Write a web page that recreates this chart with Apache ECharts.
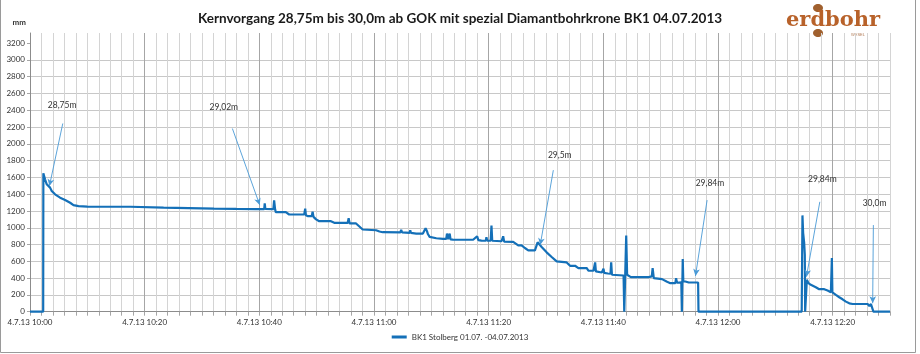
<!DOCTYPE html>
<html>
<head>
<meta charset="utf-8">
<script src="https://cdn.jsdelivr.net/npm/echarts@6/dist/echarts.min.js"></script>
<style>html,body{margin:0;padding:0;background:#fff}#c{width:920px;height:354px}</style>
</head>
<body>
<div id="c"></div>
<script>
// ---- DATA (minutes after 4.7.13 10:00, depth counter in mm) ----
const titleText = 'Kernvorgang 28,75m bis 30,0m ab GOK mit spezial Diamantbohrkrone BK1 04.07.2013';
const seriesName = 'BK1 Stolberg 01.07. -04.07.2013';
const yUnit = 'mm';
const xTickLabels = ['4.7.13 10:00','4.7.13 10:20','4.7.13 10:40','4.7.13 11:00','4.7.13 11:20','4.7.13 11:40','4.7.13 12:00','4.7.13 12:20'];
const yTicks = [0,200,400,600,800,1000,1200,1400,1600,1800,2000,2200,2400,2600,2800,3000,3200];

const xMinutes = [
 0, 2.30, 2.33, 2.62, 2.92, 3.5, 3.79, 4.37, 5.25, 6.12, 7.0, 7.58, 8.46, 10.0, 17.5, 23.3, 32.1, 36.0, 39.37,
 40.2, 40.85, 40.94, 41.05, 42.45, 42.58, 42.75, 42.87, 44.62, 44.7, 44.8, 45.2, 47.83, 48.0, 48.12, 48.5, 49.15, 49.29, 49.45,
 49.9, 50.16, 50.45, 52.49, 52.79, 53.07, 55.41, 55.58, 55.75, 56.87, 58.03, 60.37, 60.95, 61.53, 64.6, 64.74, 64.9,
 66.2, 66.32, 66.45, 67.37, 68.53, 68.8, 69.0, 69.24, 69.4, 69.7, 70.87, 72.04, 72.6, 72.73, 72.9, 73.05, 73.2, 73.35,
 73.78, 77.29, 77.99, 78.2, 78.74,
 79.5, 79.61, 79.75, 80.35, 80.49, 80.62, 80.78, 82.24, 82.53, 82.7, 84.28, 84.57, 85.15, 85.74, 86.32, 86.91, 88.07,
 88.3, 88.54, 89.24, 90.11, 90.99, 91.86, 92.16, 93.61, 94.2, 95.07, 95.65, 97.11, 97.4, 98.28, 98.45, 98.57, 98.7,
 98.86, 99.74, 99.9, 100.03, 100.15, 100.32, 100.79, 101.25, 101.37, 101.5, 101.78, 103.53, 103.65, 103.85, 103.99,
 104.15, 104.41, 104.8, 107.9, 108.45, 108.6, 108.8, 109.07, 110.24, 111.11, 111.69, 112.56, 112.69, 112.85, 113.15,
 113.6, 113.7, 113.8, 113.85, 113.95, 114.31, 114.9, 116.53, 116.6,
 134.6, 134.73, 134.85, 135.03, 135.14, 135.2, 135.4, 135.5, 135.78, 136.19, 137.06, 137.65, 138.53, 139.11, 139.69,
 139.8, 139.86, 139.95, 140.1, 140.56, 141.15, 141.73, 142.31, 142.9, 143.18, 143.48, 144.65, 144.93, 145.23, 146.1,
 146.4, 146.68, 146.98, 147.1, 150
];
const depthMM = [
 0, 0, 1650, 1577, 1518, 1478, 1438, 1398, 1358, 1330, 1298, 1270, 1258, 1252, 1250, 1239, 1227, 1224, 1222,
 1222, 1222, 1290, 1225, 1222, 1326, 1220, 1186, 1186, 1200, 1180, 1158, 1158, 1227, 1150, 1138, 1138, 1190, 1130,
 1100, 1120, 1078, 1078, 1098, 1059, 1059, 1114, 1051, 1051, 979, 970, 955, 947, 945, 975, 945,
 940, 970, 938, 931, 931, 935, 994, 960, 925, 891, 875, 867, 867, 931, 865, 865, 931, 860,
 859, 857, 899, 852, 847,
 845, 887, 845, 845, 1027, 845, 839, 839, 899, 835, 831, 819, 791, 791, 759, 731, 731,
 735, 827, 771, 707, 652, 599, 587, 587, 547, 547, 520, 520, 488, 488, 490, 587, 480,
 467, 467, 470, 512, 462, 460, 455, 452, 587, 440, 431, 431, 0, 0, 907,
 440, 440, 412, 412, 420, 520, 400, 388, 388, 356, 340, 340, 400, 345, 350,
 350, 0, 0, 627, 360, 360, 348, 348, 0,
 0, 1147, 939, 819, 679, 0, 0, 380, 340, 320, 292, 268, 268, 252, 232,
 235, 640, 230, 228, 200, 172, 148, 120, 100, 80, 92, 92, 80, 92, 92,
 68, 92, 92, 0, 0
];

// annotations: label, label position, arrow start, arrow tip (minutes, mm)
const annLabels = ['28,75m', '29,02m', '29,5m', '29,84m', '29,84m', '30,0m'];
const annLabelPos = [[5.6, 2456], [33.8, 2435], [92.4, 1865], [118.6, 1529], [138.2, 1577], [147.3, 1294]];
const annFrom = [[5.72, 2242], [35.3, 2182], [91.28, 1686], [118.1, 1329], [137.76, 1309], [147.1, 1032]];
const annTo = [[3.38, 1496], [40.07, 1270], [88.99, 794], [116.07, 425], [135.43, 417], [146.98, 100]];

// ---- CHART ----
const FONT = 'Lato, "Open Sans", sans-serif';
const data = xMinutes.map((m, i) => [m, depthMM[i]]);
const xColors = [];
for (let i = 0; i < 10; i++) xColors.push(i === 0 ? '#a6a6a6' : '#d4d4d4');

const chart = echarts.init(document.getElementById('c'), null, {renderer: 'canvas'});
chart.setOption({
  animation: false,
  backgroundColor: '#fff',
  title: {
    text: titleText, left: 'center', top: 7,
    textStyle: {fontFamily: FONT, fontWeight: 'bold', fontSize: 13.5, color: '#1a1a1a'}
  },
  legend: {
    bottom: 8, left: 'center', itemWidth: 15, itemHeight: 3, icon: 'rect', itemGap: 4,
    textStyle: {fontFamily: FONT, fontSize: 8, color: '#333'},
    data: [seriesName]
  },
  grid: {left: 30, right: 30, top: 33, bottom: 42.3, containLabel: false},
  xAxis: {
    type: 'value', min: 0, max: 150, interval: 2,
    axisLine: {show: true, lineStyle: {color: '#8c8c8c', width: 1}},
    axisTick: {show: true, length: 4, lineStyle: {color: '#a6a6a6'}},
    axisLabel: {
      fontFamily: FONT, fontSize: 8, color: '#333', margin: 7,
      formatter: v => (v % 20 === 0 ? (xTickLabels[v / 20] || '') : '')
    },
    splitLine: {show: true, lineStyle: {color: xColors, width: 1}}
  },
  yAxis: {
    type: 'value', min: 0, max: 3320, interval: 200,
    name: yUnit, nameLocation: 'end', nameGap: 7,
    nameTextStyle: {fontFamily: FONT, fontSize: 8, fontWeight: 'bold', color: '#333', align: 'right', padding: [0, 4, 0, 0]},
    axisLine: {show: true, lineStyle: {color: '#8c8c8c'}},
    axisTick: {show: true, length: 3, lineStyle: {color: '#a6a6a6'}, customValues: yTicks},
    axisLabel: {
      fontFamily: FONT, fontSize: 8, color: '#333', margin: 5, customValues: yTicks,
      formatter: v => (v % 200 === 0 && v <= 3200 ? String(v) : '')
    },
    splitLine: {show: true, showMaxLine: false, lineStyle: {color: '#c8c8c8', width: 1}}
  },
  series: [
    {
      name: seriesName, type: 'line', data: data, showSymbol: false, clip: false,
      lineStyle: {color: '#1470b8', width: 2.2}, itemStyle: {color: '#1470b8'},
      z: 3,
      markLine: {
        silent: true, symbol: ['none', 'arrow'], symbolSize: [5, 7], precision: 3,
        lineStyle: {color: '#4a9ad6', width: 0.9, type: 'solid'},
        label: {show: false},
        data: annFrom.map((f, i) => [{coord: f}, {coord: annTo[i]}])
      },
      markPoint: {
        silent: true, symbol: 'circle', symbolSize: 0,
        label: {show: true, position: 'inside', fontFamily: FONT, fontSize: 8.5, color: '#333',
                formatter: p => p.name},
        data: annLabels.map((t, i) => ({name: t, coord: annLabelPos[i]}))
      }
    }
  ],
  graphic: [
    {type: 'polyline', shape: {points: [[0.5, 0], [0.5, 352.5], [915.5, 352.5], [915.5, 0]]},
     style: {stroke: '#9a9a9a', fill: null, lineWidth: 1}, silent: true},
    // logo
    {type: 'ellipse', shape: {cx: 818, cy: 8, rx: 5, ry: 4}, style: {fill: '#a0602e'}},
    {type: 'ellipse', shape: {cx: 818, cy: 33, rx: 5, ry: 4}, style: {fill: '#a0602e'}},
    {type: 'text', left: 786, top: 10, style: {text: 'erdbohr', fill: '#b8622a',
      font: 'bold 21px "DejaVu Serif", "Liberation Serif", serif'}},
    {type: 'text', left: 851, top: 33, style: {text: 'WESEL', fill: '#b07a55', font: '4px sans-serif'}}
  ]
});
</script>
</body>
</html>
